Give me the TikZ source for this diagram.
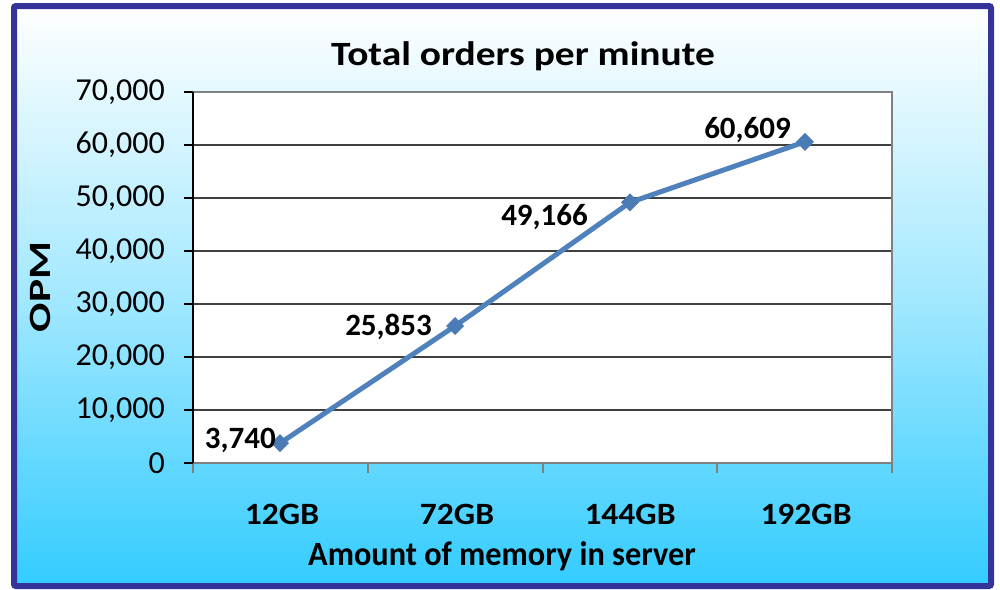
\documentclass[tikz,border=0pt]{standalone}
\usepackage{fontspec}
\setmainfont{Carlito}
\usepackage{tikz}

\definecolor{framecol}{RGB}{51,51,153}
\definecolor{skycol}{RGB}{51,204,255}
\definecolor{linecol}{RGB}{79,129,189}
\definecolor{axiscol}{RGB}{128,128,128}

\tikzset{
  ticklabel/.style={anchor=east,inner sep=0pt,font=\fontsize{32}{38}\selectfont},
  catlabel/.style={inner sep=0pt,font=\fontsize{31}{36}\selectfont\bfseries},
  datalabel/.style={inner sep=0pt,font=\fontsize{31}{36}\selectfont\bfseries},
  titlelabel/.style={inner sep=0pt,font=\fontsize{34}{40}\selectfont\bfseries}
}

\begin{document}
\begin{tikzpicture}[x=1pt,y=-1pt,line join=miter]
\useasboundingbox (0,0) rectangle (1000,589);
% background and frame
\fill [white] (0,0) rectangle (1000,589);
\shade [top color=white,bottom color=skycol,middle color=skycol!45] (14,6) rectangle (991,586);
\draw [framecol,line width=6pt,rounded corners=2pt] (14,6) rectangle (991,586);
% plot area
\fill [white] (193,92) rectangle (892,463);
\foreach \y in {92,145,198,251,304,357,410}
  \draw [black!75,line width=1.3pt] (193,\y) -- (892,\y);
\draw [axiscol,line width=2pt] (193,92) -- (892,92) -- (892,463);
% axes
\draw [axiscol,line width=2pt] (193,463) -- (892,463);
\foreach \x in {193,368,543,717,892}
  \draw [axiscol,line width=2pt] (\x,463) -- (\x,473);
\draw [black,line width=2pt] (193,92) -- (193,463);
\foreach \y in {92,145,198,251,304,357,410,463}
  \draw [black,line width=2pt] (184,\y) -- (193,\y);
% y tick labels
\node [ticklabel] (t0) at (165,463) {0};
\node [ticklabel] (t1) at (165,410) {10,000};
\node [ticklabel] (t2) at (165,357) {20,000};
\node [ticklabel] (t3) at (165,304) {30,000};
\node [ticklabel] (t4) at (165,251) {40,000};
\node [ticklabel] (t5) at (165,198) {50,000};
\node [ticklabel] (t6) at (165,145) {60,000};
\node [ticklabel] (t7) at (165,92) {70,000};
% categories
\node [catlabel] (c1) at (282,514) {\scalebox{1.08}[1]{12GB}};
\node [catlabel] (c2) at (457,514) {\scalebox{1.08}[1]{72GB}};
\node [catlabel] (c3) at (630,514) {\scalebox{1.08}[1]{144GB}};
\node [catlabel] (c4) at (806,514) {\scalebox{1.08}[1]{192GB}};
% titles
\node [titlelabel] (title) at (523,56) {\scalebox{1.16}[1]{Total orders per minute}};
\node [titlelabel] (xtitle) at (502,556) {\scalebox{0.95}[1]{Amount of memory in server}};
\node [datalabel,rotate=90] (ytitle) at (40,287) {\scalebox{1.4}[1]{OPM}};
% data series
\coordinate (p1) at (280,443.2);
\coordinate (p2) at (455,326.0);
\coordinate (p3) at (630,202.4);
\coordinate (p4) at (805,141.8);
\draw [linecol,line width=5pt,line join=round] (p1) -- (p2) -- (p3) -- (p4);
\foreach \p in {p1,p2,p3,p4}
  \fill [linecol!95!black] (\p) ++(-9,0) -- ++(9,-9) -- ++(9,9) -- ++(-9,9) -- cycle;
% data labels
\node [datalabel,anchor=east] (d1) at (276,440) {3,740};
\node [datalabel,anchor=east] (d2) at (432,327) {25,853};
\node [datalabel,anchor=east] (d3) at (588,217) {49,166};
\node [datalabel,anchor=east] (d4) at (791,130) {60,609};
\end{tikzpicture}
\end{document}
